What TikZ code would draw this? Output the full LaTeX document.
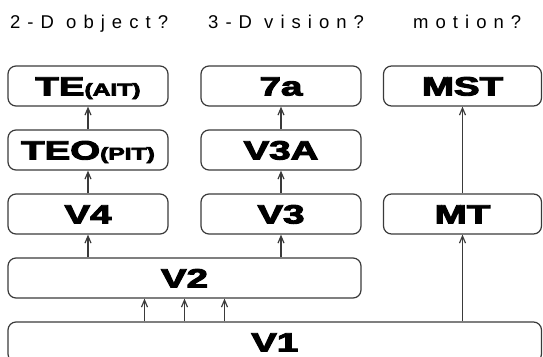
\documentclass[tikz,border=0pt]{standalone}
\usepackage{fontspec}
\usepackage{graphicx}
\setmainfont{Liberation Sans}
\newfontfamily\boxfont[FakeBold=3.5]{Liberation Sans Bold}
\newfontfamily\labfont[LetterSpace=38]{Liberation Sans}
\usetikzlibrary{arrows.meta}
\definecolor{linecol}{HTML}{3A3A3A}
\newcommand{\boxtxt}[1]{\scalebox{1.45}[1]{#1}}
\newcommand{\smalltxt}[1]{{\fontsize{17}{17}\selectfont #1}}
\begin{document}
\begin{tikzpicture}[x=1pt,y=-1pt,
  area/.style={draw=linecol, line width=1.2pt, rounded corners=8pt,
    minimum width=160pt, minimum height=40pt, inner sep=0pt,
    text height=19pt, text depth=0pt,
    font=\boxfont\fontsize{26.5}{26.5}\selectfont},
  question/.style={anchor=base west, inner sep=0pt,
    font=\labfont\fontsize{18.5}{18.5}\selectfont},
  arr/.style={draw=linecol, line width=1.2pt,
    -{Straight Barb[length=7pt,width=6pt]}}]
\useasboundingbox (0,0) rectangle (543,356);
% questions
\node[question] (q1) at (10,28) {2-D object?};
\node[question] (q2) at (208,28) {3-D vision?};
\node[question] (q3) at (413,28) {motion?};
% areas
\node[area] (TE) at (88,86) {\boxtxt{TE\smalltxt{(AIT)}}};
\node[area] (A7) at (281,86) {\boxtxt{7a}};
\node[area, minimum width=158pt] (MST) at (462.5,86) {\boxtxt{MST}};
\node[area] (TEO) at (88,150) {\boxtxt{TEO\smalltxt{(PIT)}}};
\node[area] (V3A) at (281,150) {\boxtxt{V3A}};
\node[area] (V4) at (88,214) {\boxtxt{V4}};
\node[area] (V3) at (281,214) {\boxtxt{V3}};
\node[area, minimum width=158pt] (MT) at (462.5,214) {\boxtxt{MT}};
\node[area, minimum width=353pt] (V2) at (184.5,278) {\boxtxt{V2}};
\node[area, minimum width=533.5pt] (V1) at (274.75,342) {\boxtxt{V1}};
% connectors
\draw[arr] (TEO.north) -- (TE.south);
\draw[arr] (V4.north) -- (TEO.south);
\draw[arr] (V2.north -| V4.south) -- (V4.south);
\draw[arr] (V3A.north) -- (A7.south);
\draw[arr] (V3.north) -- (V3A.south);
\draw[arr] (V2.north -| V3.south) -- (V3.south);
\draw[arr] (MT.north) -- (MST.south);
\draw[arr] (V1.north -| MT.south) -- (MT.south);
\draw[arr] ([xshift=-40pt]V2.south |- V1.north) -- ([xshift=-40pt]V2.south);
\draw[arr] (V2.south |- V1.north) -- (V2.south);
\draw[arr] ([xshift=40pt]V2.south |- V1.north) -- ([xshift=40pt]V2.south);
\end{tikzpicture}
\end{document}
